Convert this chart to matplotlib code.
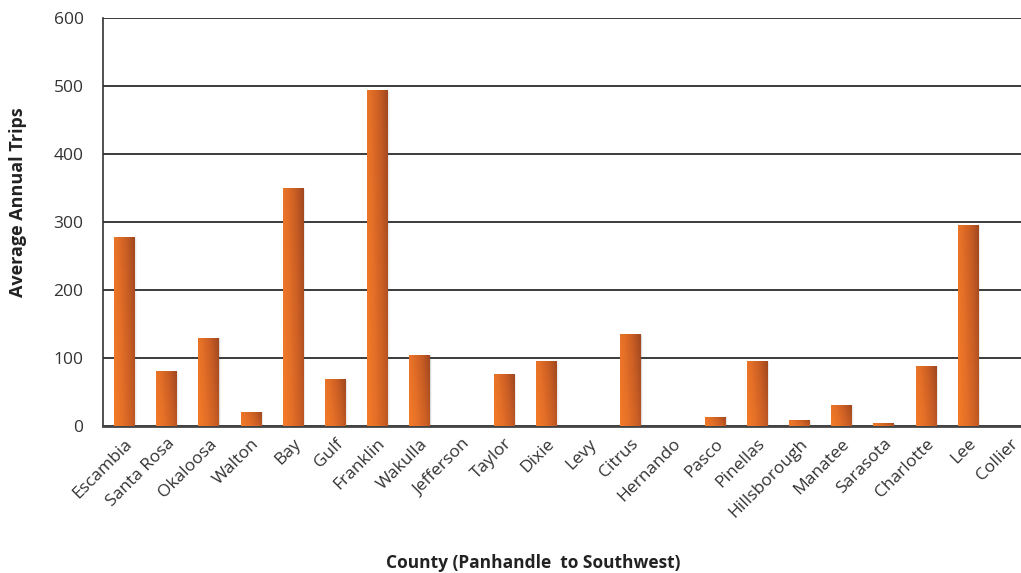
import numpy as np
import matplotlib.pyplot as plt
from matplotlib.colors import LinearSegmentedColormap
from matplotlib.patches import Rectangle
import matplotlib.transforms as mtransforms

plt.rcParams['font.family'] = ['Open Sans', 'DejaVu Sans']

counties = ['Escambia', 'Santa Rosa', 'Okaloosa', 'Walton', 'Bay', 'Gulf',
            'Franklin', 'Wakulla', 'Jefferson', 'Taylor', 'Dixie', 'Levy',
            'Citrus', 'Hernando', 'Pasco', 'Pinellas', 'Hillsborough',
            'Manatee', 'Sarasota', 'Charlotte', 'Lee', 'Collier']
trips = [278, 81, 130, 21, 350, 69, 494, 105, 0, 76, 95, 0,
         135, 0, 14, 96, 9, 31, 4, 88, 296, 0]
yticks = [0, 100, 200, 300, 400, 500, 600]

orange = LinearSegmentedColormap.from_list(
    'bar', ['#f47b28', '#e46f27', '#c85d24', '#9c4520'])

fig = plt.figure(figsize=(10.21, 5.73), dpi=100)
ax = fig.add_axes([0.1009, 0.2565, 0.909, 0.712])

x = np.arange(len(counties))
width = 0.48

# gradient fill: bright on the lower left, dark brown toward the upper right
gx, gy = np.meshgrid(np.linspace(0, 1, 60), np.linspace(0, 1, 60))
for xi, v in zip(x, trips):
    if v <= 0:
        continue
    left = xi - width / 2
    # soft drop shadow
    for k, a in [(3.5, 0.05), (2.5, 0.07), (1.5, 0.10)]:
        tr = mtransforms.offset_copy(ax.transData, fig=fig, x=k * 0.5, y=-k * 0.2,
                                     units='points')
        sh = Rectangle((left, 0), width, v, facecolor='#555555', edgecolor='none',
                       alpha=a, transform=tr, zorder=2)
        ax.add_patch(sh)
    rect = Rectangle((left, 0), width, v, facecolor='none', edgecolor='none', zorder=3)
    ax.add_patch(rect)
    t = 0.8 * gx + 0.22 * gy
    img = ax.imshow(t, cmap=orange, vmin=0, vmax=1.05, origin='lower',
                    extent=(left, left + width, 0, v), aspect='auto',
                    interpolation='bilinear', zorder=3)
    img.set_clip_path(rect)
ax.set_aspect('auto')
ax.set_xlim(-0.5, len(counties) - 0.5)
ax.set_ylim(0, 600)

ax.set_yticks(yticks)
ax.yaxis.grid(True, color='#1a1a1a', linewidth=1.2)
ax.set_axisbelow(True)
ax.tick_params(axis='y', length=0, pad=14, labelsize=12.5, labelcolor='#333333')
ax.tick_params(axis='x', length=0, pad=7, labelsize=12.5, labelcolor='#333333')
ax.set_xticks(x)
ax.set_xticklabels(counties, rotation=45, ha='right', rotation_mode='anchor')

for side in ['top', 'right']:
    ax.spines[side].set_visible(False)
ax.spines['left'].set_color('#333333')
ax.spines['left'].set_linewidth(1.2)
ax.spines['bottom'].set_color('#444444')
ax.spines['bottom'].set_linewidth(2)

fig.text(0.018, 0.647, 'Average Annual Trips', rotation=90, ha='center', va='center',
         fontsize=13, fontweight='bold', color='#222222')
fig.text(0.522, 0.0175, 'County (Panhandle  to Southwest)', ha='center', va='center',
         fontsize=12.5, fontweight='bold', color='#222222')

fig.savefig('out.png', dpi=100)
